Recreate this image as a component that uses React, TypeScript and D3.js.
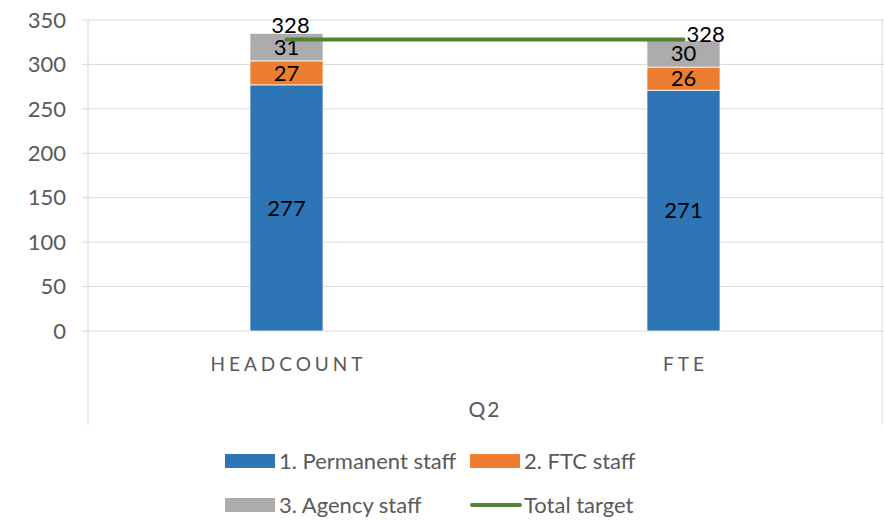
import React, { useEffect, useRef } from 'react';
import * as d3 from 'd3';

const categories = ['HEADCOUNT', 'FTE'];
const groupLabel = 'Q2';
const permanent = [277, 271];
const ftc = [27, 26];
const agency = [31, 30];
const target = [328, 328];
const yTicks = [0, 50, 100, 150, 200, 250, 300, 350];
const seriesNames = ['1. Permanent staff', '2. FTC staff', '3. Agency staff', 'Total target'];
const colors = ['#2E75B6', '#ED7D31', '#ADABAB', '#548235'];

const FONT = "Lato, 'Noto Sans', sans-serif";

const App = () => {
    const ref = useRef<SVGSVGElement>(null);

    useEffect(() => {
        const svg = d3.select(ref.current);
        svg.selectAll('*').remove();

        const left = 88, right = 882, top = 20, bottom = 331;

        const x = d3.scaleBand<string>().domain(categories).range([left, right]).padding(0);
        const y = d3.scaleLinear().domain([0, 350]).range([bottom, top]);
        const barW = x.bandwidth() * 0.184;

        // gridlines
        svg.append('g')
            .selectAll('line')
            .data(yTicks)
            .join('line')
            .attr('x1', left - 6)
            .attr('x2', 884)
            .attr('y1', d => y(d))
            .attr('y2', d => y(d))
            .attr('stroke', '#d9d9d9')
            .attr('stroke-width', 1);

        // vertical axis edges (multi-level category axis)
        [left, right].forEach(xx => {
            svg.append('line')
                .attr('x1', xx).attr('x2', xx)
                .attr('y1', top).attr('y2', 425)
                .attr('stroke', '#d9d9d9')
                .attr('stroke-width', 1);
        });

        // y tick labels
        svg.append('g')
            .selectAll('text')
            .data(yTicks)
            .join('text')
            .attr('x', 66)
            .attr('y', d => y(d))
            .attr('dy', '0.35em')
            .attr('text-anchor', 'end')
            .style('font-family', FONT)
            .style('font-size', '22px')
            .style('fill', '#595959')
            .text(d => d);

        // stacked bars
        const stackData = categories.map((c, i) => ({ cat: c, permanent: permanent[i], ftc: ftc[i], agency: agency[i] }));
        const stack = d3.stack<any>().keys(['permanent', 'ftc', 'agency'])(stackData);

        stack.forEach((layer, li) => {
            const g = svg.append('g');
            g.selectAll('rect')
                .data(layer)
                .join('rect')
                .attr('x', d => (x(d.data.cat) as number) + x.bandwidth() / 2 - barW / 2)
                .attr('y', d => y(d[1]))
                .attr('width', barW)
                .attr('height', d => y(d[0]) - y(d[1]))
                .attr('fill', colors[li])
                .attr('stroke', 'white')
                .attr('stroke-width', 0.75);

            g.selectAll('text')
                .data(layer)
                .join('text')
                .attr('x', d => (x(d.data.cat) as number) + x.bandwidth() / 2)
                .attr('y', d => (y(d[0]) + y(d[1])) / 2)
                .attr('dy', '0.35em')
                .attr('text-anchor', 'middle')
                .style('font-family', FONT)
                .style('font-size', '22px')
                .style('fill', 'black')
                .text(d => d[1] - d[0]);
        });

        // total target line
        const cx = (c: string) => (x(c) as number) + x.bandwidth() / 2;
        const line = d3.line<number>()
            .x((_, i) => cx(categories[i]))
            .y(d => y(d));
        svg.append('path')
            .datum(target)
            .attr('d', line)
            .attr('fill', 'none')
            .attr('stroke', colors[3])
            .attr('stroke-width', 4)
            .attr('stroke-linecap', 'round');

        // target labels: first above, last to the right
        svg.append('text')
            .attr('x', cx(categories[0]) + 4)
            .attr('y', y(target[0]) - 14)
            .attr('dy', '0.35em')
            .attr('text-anchor', 'middle')
            .style('font-family', FONT)
            .style('font-size', '22px')
            .text(target[0]);
        svg.append('text')
            .attr('x', cx(categories[1]) + 3)
            .attr('y', y(target[1]) - 5)
            .attr('dy', '0.35em')
            .attr('text-anchor', 'start')
            .style('font-family', FONT)
            .style('font-size', '22px')
            .text(target[1]);

        // category labels
        svg.append('g')
            .selectAll('text')
            .data(categories)
            .join('text')
            .attr('x', d => cx(d) + 2)
            .attr('y', 364)
            .attr('dy', '0.35em')
            .attr('text-anchor', 'middle')
            .style('font-family', FONT)
            .style('font-size', '19px')
            .style('letter-spacing', '4px')
            .style('fill', '#595959')
            .text(d => d);

        svg.append('text')
            .attr('x', (left + right) / 2)
            .attr('y', 410)
            .attr('dy', '0.35em')
            .attr('text-anchor', 'middle')
            .style('font-family', FONT)
            .style('font-size', '21px')
            .style('letter-spacing', '2px')
            .style('fill', '#595959')
            .text(groupLabel);

        // legend
        const legendPos = [[225, 461], [470, 461], [225, 505], [470, 505]];
        seriesNames.forEach((name, i) => {
            const [lx, ly] = legendPos[i];
            if (i < 3) {
                svg.append('rect')
                    .attr('x', lx).attr('y', ly - 7)
                    .attr('width', 50).attr('height', 14)
                    .attr('fill', colors[i]);
            } else {
                svg.append('line')
                    .attr('x1', lx + 2).attr('x2', lx + 50)
                    .attr('y1', ly).attr('y2', ly)
                    .attr('stroke', colors[i])
                    .attr('stroke-width', 4)
                    .attr('stroke-linecap', 'round');
            }
            svg.append('text')
                .attr('x', lx + 54)
                .attr('y', ly)
                .attr('dy', '0.35em')
                .style('font-family', FONT)
                .style('font-size', '22px')
                .style('fill', '#595959')
                .text(name);
        });
    }, []);

    return (
        <svg ref={ref} width={884} height={520} style={{ position: 'absolute', left: 0, top: 0 }} />
    );
};

export default App;
